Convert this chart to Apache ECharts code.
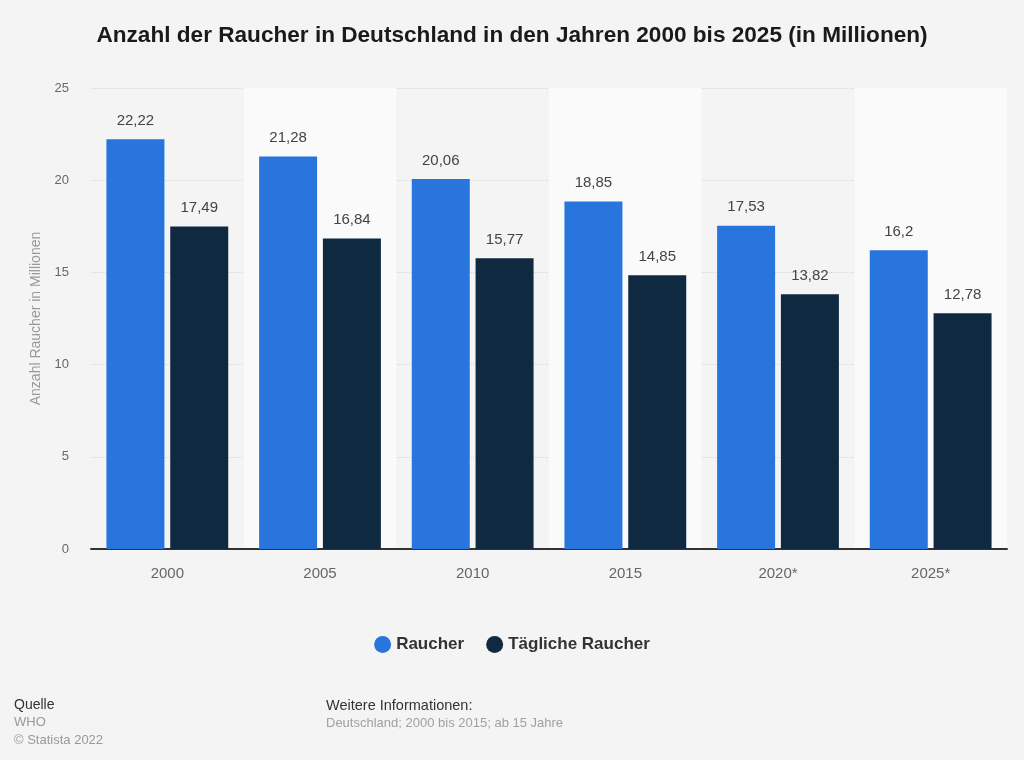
<!DOCTYPE html>
<html>
<head>
<meta charset="utf-8">
<script src="https://cdn.jsdelivr.net/npm/echarts@6/dist/echarts.min.js"></script>
<style>
  html, body { margin: 0; padding: 0; background: #f4f4f4; }
  #chart { width: 1024px; height: 760px; }
</style>
</head>
<body>
<div id="chart"></div>
<script>
var years = ['2000', '2005', '2010', '2015', '2020*', '2025*'];
var raucher = [22.22, 21.28, 20.06, 18.85, 17.53, 16.2];
var taeglich = [17.49, 16.84, 15.77, 14.85, 13.82, 12.78];
var yTicks = [0, 5, 10, 15, 20, 25];

var myChart = echarts.init(document.getElementById('chart'));

function deNum(p) {
    return String(p.value).replace('.', ',');
}

var font = 'Liberation Sans, Arial, sans-serif';

var option = {
    backgroundColor: '#f4f4f4',
    textStyle: { fontFamily: font },
    title: {
        text: 'Anzahl der Raucher in Deutschland in den Jahren 2000 bis 2025 (in Millionen)',
        left: 'center',
        top: 19,
        textStyle: { fontSize: 22.6, fontWeight: 'bold', color: '#1a1a1a' }
    },
    legend: {
        top: 631,
        left: 'center',
        icon: 'circle',
        itemWidth: 17,
        itemHeight: 17,
        itemGap: 22,
        textStyle: { fontSize: 17, fontWeight: 'bold', color: '#333' },
        data: ['Raucher', 'Tägliche Raucher']
    },
    grid: {
        left: 91,
        right: 17,
        top: 88,
        bottom: 211
    },
    xAxis: {
        type: 'category',
        data: years,
        axisLine: { show: true, lineStyle: { color: '#333', width: 2 } },
        axisTick: { show: false },
        axisLabel: { color: '#666', fontSize: 15, margin: 17 },
        splitArea: { show: true, areaStyle: { color: ['rgba(0,0,0,0)', '#fafafa'] } }
    },
    yAxis: {
        type: 'value',
        min: yTicks[0],
        max: yTicks[yTicks.length - 1],
        interval: 5,
        name: 'Anzahl Raucher in Millionen',
        nameLocation: 'middle',
        nameGap: 48,
        nameTextStyle: { color: '#999', fontSize: 14 },
        axisLine: { show: false },
        axisTick: { show: false },
        axisLabel: { color: '#666', fontSize: 13, margin: 22 },
        splitLine: { lineStyle: { color: '#d8d8d8', type: 'dotted', width: 1 } }
    },
    series: [
        {
            name: 'Raucher',
            type: 'bar',
            data: raucher,
            barWidth: 58,
            barGap: '10%',
            itemStyle: { color: '#2876dd' },
            label: { show: true, position: 'top', distance: 11, color: '#444', fontSize: 15, formatter: deNum }
        },
        {
            name: 'Tägliche Raucher',
            type: 'bar',
            data: taeglich,
            barWidth: 58,
            barGap: '10%',
            itemStyle: { color: '#0f2a40' },
            label: { show: true, position: 'top', distance: 11, color: '#444', fontSize: 15, formatter: deNum }
        }
    ],
    graphic: [
        { type: 'text', left: 14, top: 698, style: { text: 'Quelle', fontSize: 14, fill: '#333', fontFamily: font } },
        { type: 'text', left: 14, top: 716, style: { text: 'WHO', fontSize: 13, fill: '#999', fontFamily: font } },
        { type: 'text', left: 14, top: 734, style: { text: '© Statista 2022', fontSize: 13, fill: '#999', fontFamily: font } },
        { type: 'text', left: 326, top: 698, style: { text: 'Weitere Informationen:', fontSize: 14.5, fill: '#333', fontFamily: font } },
        { type: 'text', left: 326, top: 717, style: { text: 'Deutschland; 2000 bis 2015; ab 15 Jahre', fontSize: 13, fill: '#a0a0a0', fontFamily: font } }
    ]
};

myChart.setOption(option);
window.addEventListener("resize", function () {
    myChart.resize();
});
</script>
</body>
</html>
